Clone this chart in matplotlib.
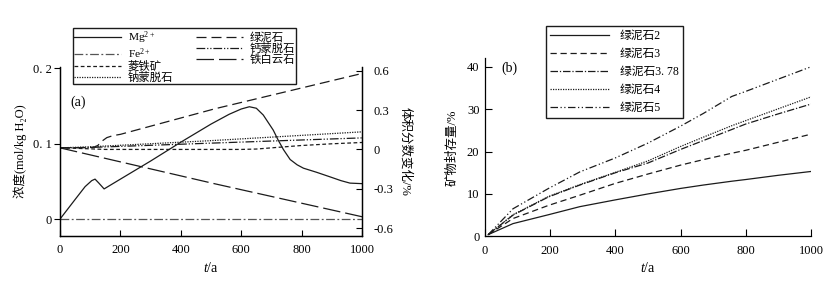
import matplotlib
matplotlib.use("Agg")
import matplotlib.pyplot as plt

plt.rcParams.update({
    "font.family": ["Liberation Serif", "Noto Sans CJK SC"],
    "font.size": 9,
    "mathtext.fontset": "custom",
    "mathtext.rm": "Liberation Serif",
    "mathtext.it": "Liberation Serif:italic",
    "axes.linewidth": 0.9,
})
INK = "#1b1b1b"

# ---- panel (a): ion concentration (left) and mineral volume change (right) ----
mg_t = [0, 25, 50, 83, 105, 116, 128, 146, 200, 300, 400, 500, 560, 600, 627, 650,
        673, 706, 722, 740, 762, 785, 806, 850, 894, 930, 960, 1000]
mg_c = [0, 0.013, 0.026, 0.043, 0.051, 0.053, 0.048, 0.040, 0.053, 0.077, 0.102, 0.126,
        0.139, 0.146, 0.149, 0.147, 0.138, 0.118, 0.105, 0.092, 0.079, 0.072, 0.0675,
        0.062, 0.056, 0.051, 0.0477, 0.047]
fe_t = [0, 1000]
fe_c = [0, 0]

chl_t = [0, 110, 125, 140, 155, 175, 200, 513, 1000]
chl_v = [0.012, 0.015, 0.03, 0.065, 0.09, 0.105, 0.115, 0.31, 0.579]
ank_t = [0, 513, 1000]
ank_v = [0.012, -0.262, -0.513]
sid_t = [0, 60, 150, 600, 650, 700, 800, 900, 1000]
sid_v = [0.012, 0.008, 0.0, 0.0, 0.003, 0.012, 0.03, 0.043, 0.053]
namt_t = [0, 100, 500, 1000]
namt_v = [0.012, 0.02, 0.067, 0.134]
camt_t = [0, 100, 500, 1000]
camt_v = [0.012, 0.015, 0.048, 0.088]

# ---- panel (b): mineral trapping vs chlorite content ----
b_t = [10, 86, 195, 291, 400, 500, 600, 670, 757, 800, 900, 1000]
chl2 = [0.4, 3.0, 5.1, 7.0, 8.6, 10.0, 11.3, 12.1, 13.0, 13.4, 14.4, 15.3]
chl3 = [0.4, 4.2, 7.3, 9.7, 12.5, 14.7, 16.8, 18.1, 19.6, 20.3, 22.2, 24.1]
chl378 = [0.4, 5.0, 9.3, 12.1, 15.0, 17.3, 20.5, 22.6, 25.2, 26.5, 28.9, 31.2]
chl4 = [0.4, 5.1, 9.4, 12.2, 15.1, 17.8, 21.2, 23.4, 26.1, 27.3, 30.1, 32.9]
chl5 = [0.4, 6.5, 11.3, 15.2, 18.5, 22.0, 26.0, 29.0, 33.0, 34.2, 37.1, 40.0]

fig = plt.figure(figsize=(8.3, 2.81), dpi=100)
ax = fig.add_axes([0.0723, 0.160, 0.3639, 0.601])
axr = ax.twinx()

h_mg, = ax.plot(mg_t, mg_c, color=INK, lw=0.9, label="Mg$^{2+}$")
h_fe, = ax.plot(fe_t, fe_c, color="#555555", lw=0.9, dashes=(7, 2, 1.5, 2),
                label="Fe$^{2+}$")
h_sid, = axr.plot(sid_t, sid_v, color=INK, lw=0.9, dashes=(3, 2), label="菱铁矿")
h_na, = axr.plot(namt_t, namt_v, color=INK, lw=0.9, dashes=(1, 1), label="钠蒙脱石")
h_chl, = axr.plot(chl_t, chl_v, color=INK, lw=0.9, dashes=(8, 4), label="绿泥石")
h_ca, = axr.plot(camt_t, camt_v, color=INK, lw=0.9, dashes=(7, 1.5, 1, 1.5, 1, 1.5),
                 label="钙蒙脱石")
h_ank, = axr.plot(ank_t, ank_v, color=INK, lw=0.9, dashes=(14, 4), label="铁白云石")

ax.set_xlim(0, 1000)
ax.set_ylim(-0.0225, 0.2015)
axr.set_ylim(-0.66, 0.627)
ax.set_xticks([0, 200, 400, 600, 800, 1000])
ax.set_yticks([0, 0.1, 0.2])
ax.set_yticklabels(["0", "0. 1", "0. 2"])
axr.set_yticks([-0.6, -0.3, 0, 0.3, 0.6])
axr.set_yticklabels(["-0.6", "-0.3", "0", "0.3", "0.6"])
for a in (ax, axr):
    a.spines["top"].set_visible(False)
ax.tick_params(axis="x", direction="in", length=4, width=0.8, pad=6)
ax.tick_params(axis="y", direction="out", length=4, width=0.8, pad=2)
axr.tick_params(axis="y", direction="in", length=4, width=0.8, pad=8)
ax.set_xlabel("$t$/a", fontsize=10, labelpad=3)
ax.set_ylabel("浓度(mol/kg H\u2082O)", fontsize=9, labelpad=4)
axr.set_ylabel("体积分数变化/%", fontsize=9, rotation=270, labelpad=13)
ax.text(0.033, 0.79, "(a)", transform=ax.transAxes, fontsize=10, va="center")

fig.legend([h_mg, h_fe, h_sid, h_na, h_chl, h_ca, h_ank],
           [h.get_label() for h in (h_mg, h_fe, h_sid, h_na, h_chl, h_ca, h_ank)],
           ncol=2, loc="upper left", bbox_to_anchor=(0.0876, 0.90), fontsize=8.2,
           frameon=True, fancybox=False, edgecolor=INK, framealpha=1,
           handlelength=4.1, handletextpad=0.6, labelspacing=0.0, borderpad=0.12,
           columnspacing=2.0, borderaxespad=0)

# ---- panel (b) ----
bx = fig.add_axes([0.5843, 0.159, 0.3928, 0.6335])
l2, = bx.plot(b_t, chl2, color=INK, lw=0.9, label="绿泥石2")
l3, = bx.plot(b_t, chl3, color=INK, lw=0.9, dashes=(5, 3), label="绿泥石3")
l378, = bx.plot(b_t, chl378, color=INK, lw=0.9, dashes=(6, 1.5, 1, 1.5), label="绿泥石3. 78")
l4, = bx.plot(b_t, chl4, color=INK, lw=0.9, dashes=(1, 1), label="绿泥石4")
l5, = bx.plot(b_t, chl5, color=INK, lw=0.9, dashes=(6, 2, 1, 2, 1, 2), label="绿泥石5")
bx.set_xlim(0, 1000)
bx.set_ylim(0, 42)
bx.set_xticks([0, 200, 400, 600, 800, 1000])
bx.set_yticks([0, 10, 20, 30, 40])
bx.spines["top"].set_visible(False)
bx.spines["right"].set_visible(False)
bx.tick_params(axis="both", direction="in", length=5, width=0.8)
bx.tick_params(axis="x", pad=6)
bx.tick_params(axis="y", pad=4)
bx.set_xlabel("$t$/a", fontsize=10, labelpad=3)
bx.set_ylabel("矿物封存量/%", fontsize=9, labelpad=6)
bx.text(0.051, 0.944, "(b)", transform=bx.transAxes, fontsize=10, va="center")
fig.legend([l2, l3, l378, l4, l5], [l.get_label() for l in (l2, l3, l378, l4, l5)],
           loc="upper left", bbox_to_anchor=(0.658, 0.9075), fontsize=8.5,
           frameon=True, fancybox=False, edgecolor=INK, framealpha=1,
           handlelength=5.0, handletextpad=0.9, labelspacing=0.5, borderpad=0.35,
           borderaxespad=0)

fig.savefig("out.png", dpi=100)
